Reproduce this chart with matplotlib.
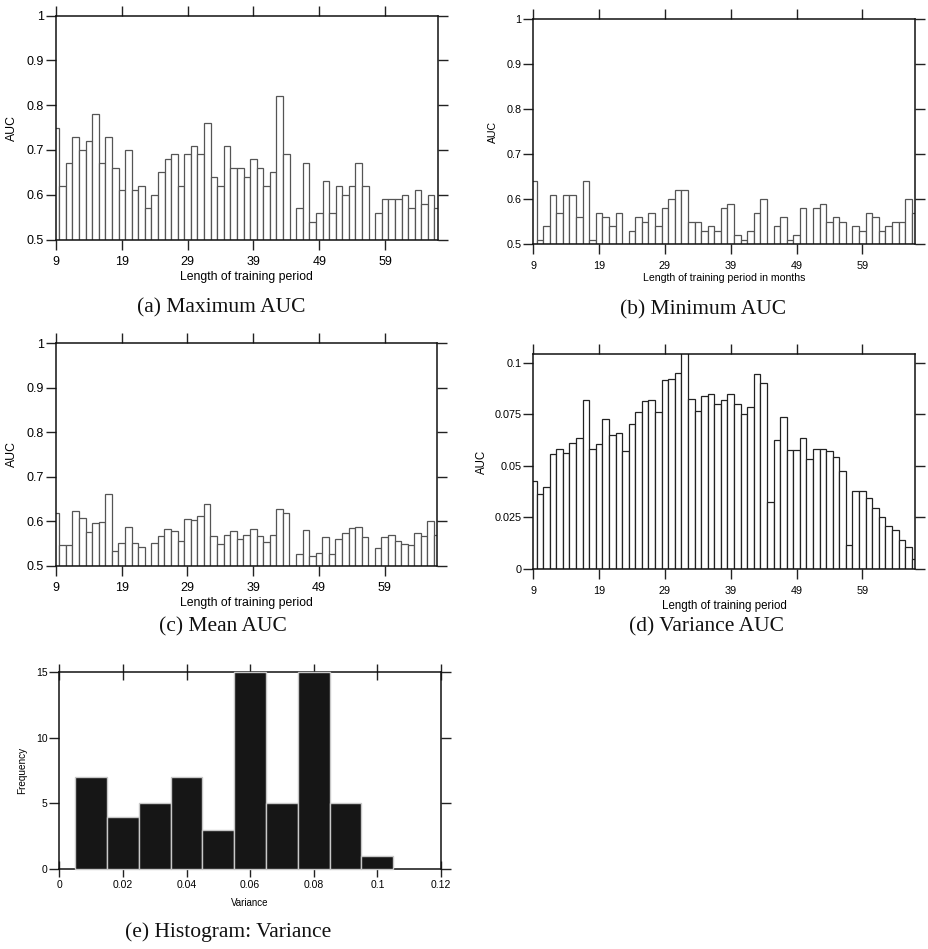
import numpy as np
import matplotlib
matplotlib.use("Agg")
import matplotlib.pyplot as plt

# ---------------- data ----------------
months = list(range(9, 68))  # training period lengths 9..67

max_auc = [0.75, 0.62, 0.67, 0.73, 0.70, 0.72, 0.78, 0.67, 0.73, 0.66,
           0.61, 0.70, 0.61, 0.62, 0.57, 0.60, 0.65, 0.68, 0.69, 0.62,
           0.69, 0.71, 0.69, 0.76, 0.64, 0.62, 0.71, 0.66, 0.66, 0.64,
           0.68, 0.66, 0.62, 0.65, 0.82, 0.69, 0.50, 0.57, 0.67, 0.54,
           0.56, 0.63, 0.56, 0.62, 0.60, 0.62, 0.67, 0.62, 0.50, 0.56,
           0.59, 0.59, 0.59, 0.60, 0.57, 0.61, 0.58, 0.60, 0.57]

min_auc = [0.64, 0.51, 0.54, 0.61, 0.57, 0.61, 0.61, 0.56, 0.64, 0.51,
           0.57, 0.56, 0.54, 0.57, 0.50, 0.53, 0.56, 0.55, 0.57, 0.54,
           0.58, 0.60, 0.62, 0.62, 0.55, 0.55, 0.53, 0.54, 0.53, 0.58,
           0.59, 0.52, 0.51, 0.53, 0.57, 0.60, 0.50, 0.54, 0.56, 0.51,
           0.52, 0.58, 0.50, 0.58, 0.59, 0.55, 0.56, 0.55, 0.50, 0.54,
           0.53, 0.57, 0.56, 0.53, 0.54, 0.55, 0.55, 0.60, 0.57]

mean_auc = [0.618, 0.546, 0.546, 0.622, 0.608, 0.576, 0.595, 0.597, 0.660, 0.533,
            0.550, 0.588, 0.552, 0.543, 0.500, 0.550, 0.566, 0.582, 0.578, 0.556,
            0.604, 0.603, 0.612, 0.639, 0.566, 0.549, 0.570, 0.577, 0.561, 0.568,
            0.582, 0.566, 0.553, 0.570, 0.627, 0.619, 0.500, 0.526, 0.580, 0.521,
            0.528, 0.564, 0.526, 0.559, 0.574, 0.585, 0.586, 0.564, 0.500, 0.539,
            0.564, 0.568, 0.556, 0.548, 0.546, 0.573, 0.566, 0.600, 0.570]

var_auc = [0.0427, 0.0363, 0.0399, 0.0556, 0.0582, 0.0561, 0.0611, 0.0637, 0.0817, 0.0580,
           0.0606, 0.0725, 0.0651, 0.0661, 0.0570, 0.0701, 0.0761, 0.0813, 0.0817, 0.0761,
           0.0914, 0.0919, 0.0948, 0.1060, 0.0823, 0.0768, 0.0840, 0.0848, 0.0800, 0.0818,
           0.0848, 0.0798, 0.0750, 0.0787, 0.0947, 0.0900, 0.0324, 0.0624, 0.0739, 0.0577,
           0.0577, 0.0637, 0.0535, 0.0581, 0.0584, 0.0574, 0.0545, 0.0474, 0.0115, 0.0376,
           0.0376, 0.0344, 0.0294, 0.0250, 0.0210, 0.0187, 0.0139, 0.0105, 0.0047]

hist_edges = [0.005, 0.015, 0.025, 0.035, 0.045, 0.055, 0.065, 0.075, 0.085, 0.095, 0.105]
hist_counts = [7, 4, 5, 7, 3, 15, 5, 15, 5, 1]

x_ticks = [9, 19, 29, 39, 49, 59]
auc_ticks = [0.5, 0.6, 0.7, 0.8, 0.9, 1.0]
auc_ticklabels = ["0.5", "0.6", "0.7", "0.8", "0.9", "1"]
var_ticks = [0, 0.025, 0.05, 0.075, 0.1]
var_ticklabels = ["0", "0.025", "0.05", "0.075", "0.1"]
hist_xticks = [0, 0.02, 0.04, 0.06, 0.08, 0.1, 0.12]
hist_xticklabels = ["0", "0.02", "0.04", "0.06", "0.08", "0.1", "0.12"]
hist_yticks = [0, 5, 10, 15]

captions = ["(a) Maximum AUC", "(b) Minimum AUC", "(c) Mean AUC",
            "(d) Variance AUC", "(e) Histogram: Variance"]

# ---------------- figure ----------------
W, H = 929, 949
fig = plt.figure(figsize=(W / 100, H / 100), dpi=100)
SANS = ["Liberation Sans", "DejaVu Sans"]
SERIF = ["Liberation Serif", "DejaVu Serif"]


def rect(l, r, t, b):
    return [l / W, (H - b) / H, (r - l) / W, (b - t) / H]


def style_axes(ax, tick_fs, xlab, ylab, lab_fs, xlab_y, ylab_x, ylab_fs=None):
    for s in ax.spines.values():
        s.set_color("#111111")
        s.set_linewidth(1.1)
    ax.tick_params(direction="out", length=7.5, width=1.0, color="#222222",
                   top=True, right=True, labeltop=False, labelright=False,
                   labelsize=tick_fs)
    ax.tick_params(axis="x", pad=4.5)
    ax.tick_params(axis="y", pad=1.0)
    for lab in ax.get_xticklabels() + ax.get_yticklabels():
        lab.set_family(SANS)
    ax.set_xlabel(xlab, fontsize=lab_fs, family=SANS)
    ax.xaxis.set_label_coords(0.5, xlab_y)
    ax.xaxis.label.set_va("center")
    ax.set_ylabel(ylab, fontsize=ylab_fs or lab_fs, family=SANS)
    ax.yaxis.set_label_coords(ylab_x, 0.5)
    ax.yaxis.label.set_va("center")


def auc_panel(r, vals, base, ylim, yt, ytl, edge, tick_fs, xlab, lab_fs, xlab_y, ylab_x):
    ax = fig.add_axes(r)
    v = np.array(vals)
    ax.bar(months, v - base, bottom=base, width=1.0, facecolor="white",
           edgecolor=edge, linewidth=0.9, zorder=2)
    ax.set_xlim(9, 67)
    ax.set_ylim(*ylim)
    ax.set_xticks(x_ticks)
    ax.set_yticks(yt)
    ax.set_yticklabels(ytl)
    style_axes(ax, tick_fs, xlab, "AUC", lab_fs, xlab_y, ylab_x)
    return ax


auc_panel(rect(56, 437.7, 15.7, 239.5), max_auc, 0.5, (0.5, 1.0), auc_ticks, auc_ticklabels,
          "#555555", 9, "Length of training period", 8.8, -0.166, -0.115)
auc_panel(rect(533.3, 915, 19, 244.3), min_auc, 0.5, (0.5, 1.0), auc_ticks, auc_ticklabels,
          "#555555", 7.8, "Length of training period in months", 7.6, -0.148, -0.105)
auc_panel(rect(56, 437.3, 343, 565.7), mean_auc, 0.5, (0.5, 1.0), auc_ticks, auc_ticklabels,
          "#555555", 9, "Length of training period", 8.8, -0.1675, -0.116)
auc_panel(rect(533.3, 915, 354, 569), var_auc, 0.0, (0.0, 0.1042), var_ticks, var_ticklabels,
          "#222222", 7.8, "Length of training period", 8.3, -0.172, -0.135)

# histogram panel
axe = fig.add_axes(rect(59.3, 441, 672.3, 869))
edges = np.array(hist_edges)
axe.bar(edges[:-1], hist_counts, width=np.diff(edges), align="edge",
        facecolor="#161616", edgecolor="#c8c8c8", linewidth=1.0, zorder=3, clip_on=False)
axe.set_xlim(0, 0.12)
axe.set_ylim(0, 15)
axe.set_xticks(hist_xticks)
axe.set_xticklabels(hist_xticklabels)
axe.set_yticks(hist_yticks)
style_axes(axe, 7.5, "Variance", "Frequency", 7.0, -0.173, -0.098, 7.2)
axe.tick_params(axis="x", direction="inout", length=12, pad=2)

# captions
cap_pos = [(221, 308), (703, 310), (223, 627), (707, 627), (228, 932)]
for txt, (cx, cy) in zip(captions, cap_pos):
    fig.text(cx / W, 1 - cy / H, txt, ha="center", va="center",
             fontsize=15.5, family=SERIF, color="#111111")

fig.savefig("out.png", dpi=100, facecolor="white")
